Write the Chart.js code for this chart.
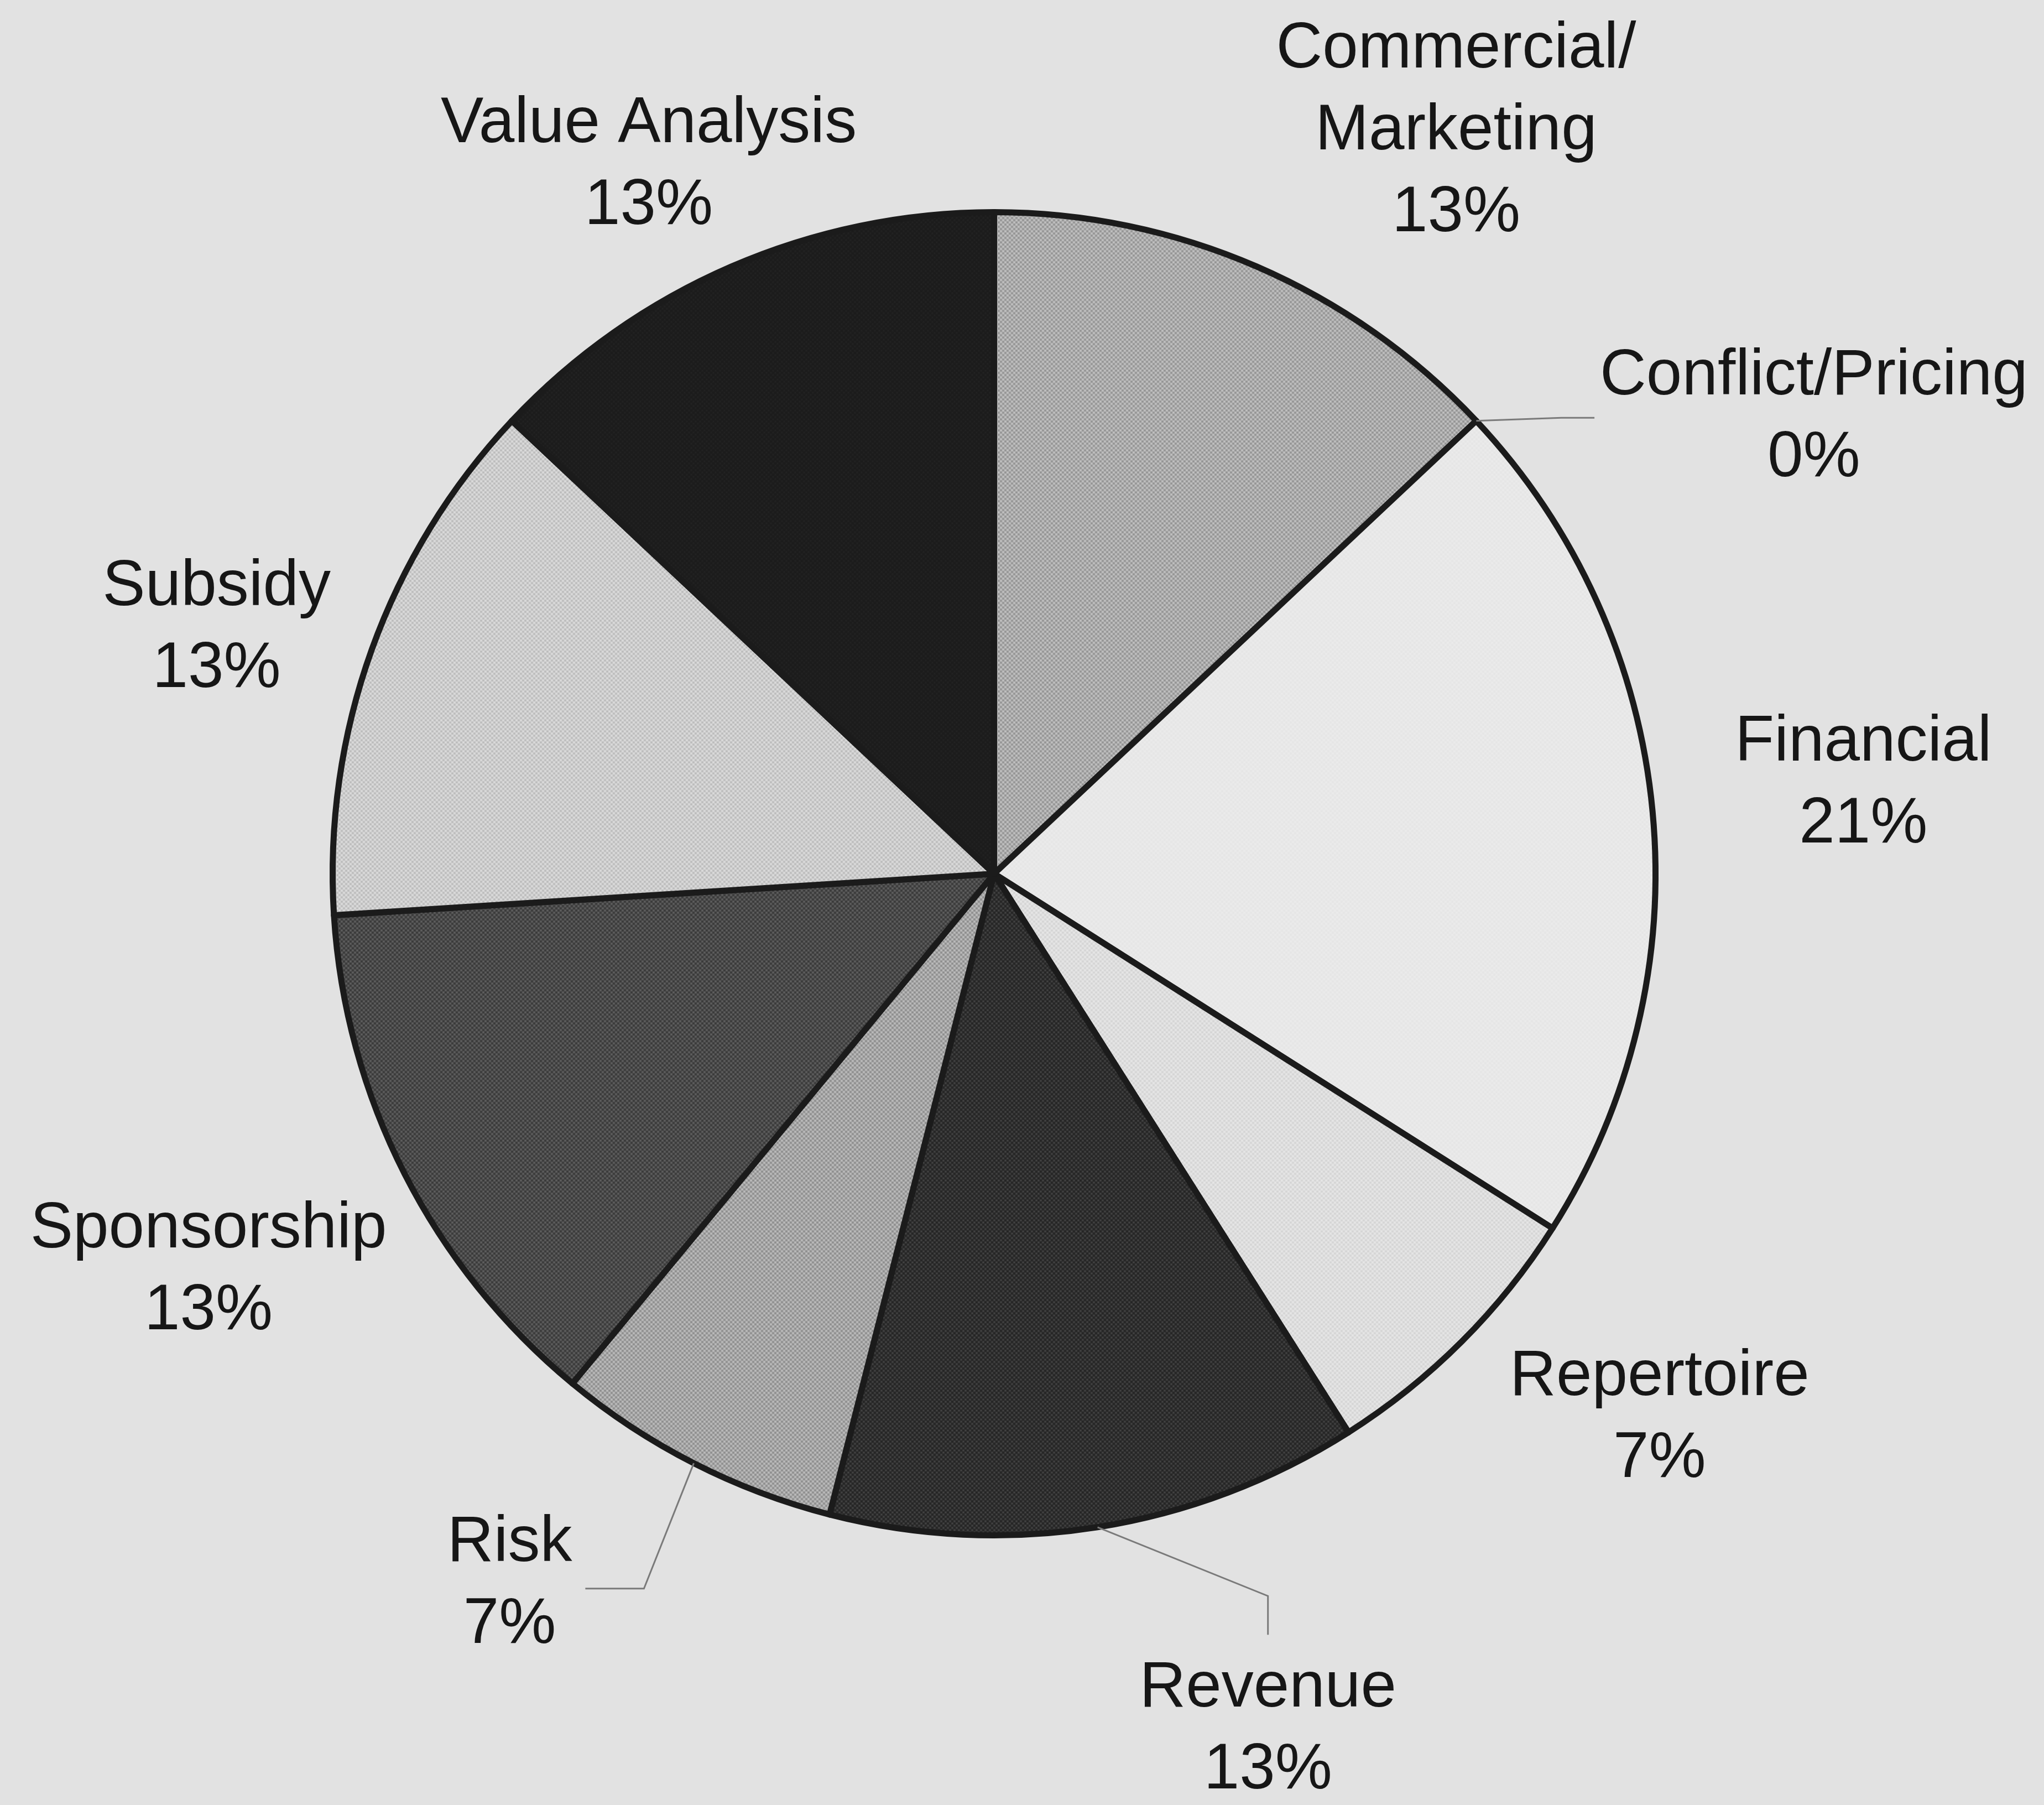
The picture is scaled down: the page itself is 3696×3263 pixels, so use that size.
<!DOCTYPE html>
<html>
<head>
<meta charset="utf-8">
<title>Pie</title>
<script src="https://cdn.jsdelivr.net/npm/chart.js@4.4.1/dist/chart.umd.min.js"></script>
<style>
  html, body { margin: 0; padding: 0; background: #e2e2e2; }
  canvas { display: block; }
</style>
</head>
<body>
<canvas id="pie" width="3696" height="3263"></canvas>
<script>
// ---- DATA ----
const categories = [
  ["Commercial/", "Marketing"],
  ["Conflict/Pricing"],
  ["Financial"],
  ["Repertoire"],
  ["Revenue"],
  ["Risk"],
  ["Sponsorship"],
  ["Subsidy"],
  ["Value Analysis"]
];
const shares = [13, 0, 21, 7, 13, 7, 13, 13, 13];

// ---- LOOK ----
// each slice: [base grey, light dot, dark dot] for the halftone fill
const sliceShades = [
  ["#ababab", "#c4c4c4", "#909090"],
  ["#e9e9e9", "#e9e9e9", "#e9e9e9"],
  ["#e8e8e8", "#ebebeb", "#e5e5e5"],
  ["#dedede", "#e7e7e7", "#d3d3d3"],
  ["#2f2f2f", "#444444", "#232323"],
  ["#a5a5a5", "#bfbfbf", "#8a8a8a"],
  ["#4a4a4a", "#616161", "#373737"],
  ["#cdcdcd", "#dddddd", "#b9b9b9"],
  ["#1e1e1e", "#222222", "#1b1b1b"]
];
// labels sit 1.3 radii out on the slice's middle angle, then get nudged (px)
const labelNudge = [
  [218, 85], [349, 240], [24, -16], [104, -115], [252, 12],
  [-170, -101], [-35, 12], [57, 83], [-7, 146]
];
// leader lines: side of the label block the line attaches to
const leaderSide = [null, "left", null, null, "top", "right", null, null, null];

const FONT_PX = 116;
const LINE_PX = 148;

function stipple([base, light, dark]) {
  const tile = document.createElement("canvas");
  tile.width = tile.height = 8;
  const t = tile.getContext("2d");
  t.fillStyle = base;
  t.fillRect(0, 0, 8, 8);
  const dot = (x, y, c) => { t.fillStyle = c; t.beginPath(); t.arc(x, y, 1.6, 0, Math.PI * 2); t.fill(); };
  dot(2, 2, light); dot(6, 6, light);
  dot(6, 2, dark); dot(2, 6, dark);
  return t.createPattern(tile, "repeat");
}

const pageFill = {
  id: "pageFill",
  beforeDraw(chart) {
    const ctx = chart.ctx;
    ctx.save();
    ctx.fillStyle = "#e2e2e2";
    ctx.fillRect(0, 0, chart.width, chart.height);
    ctx.restore();
  }
};

const sliceLabels = {
  id: "sliceLabels",
  afterDatasetsDraw(chart) {
    const ctx = chart.ctx;
    const arcs = chart.getDatasetMeta(0).data;
    ctx.save();
    ctx.font = `${FONT_PX}px "Liberation Sans", Arial, sans-serif`;
    ctx.textAlign = "center";
    ctx.textBaseline = "middle";
    arcs.forEach((arc, i) => {
      const { x, y, startAngle, endAngle, outerRadius } =
        arc.getProps(["x", "y", "startAngle", "endAngle", "outerRadius"], true);
      const mid = (startAngle + endAngle) / 2;
      const lines = [...categories[i], shares[i] + "%"];
      const cx = x + Math.cos(mid) * outerRadius * 1.3 + labelNudge[i][0];
      const cy = y + Math.sin(mid) * outerRadius * 1.3 + labelNudge[i][1];
      const top = cy - (lines.length - 1) * LINE_PX / 2;

      ctx.fillStyle = "#161616";
      lines.forEach((t, k) => ctx.fillText(t, cx, top + k * LINE_PX));

      const side = leaderSide[i];
      if (!side) return;
      const halfW = Math.max(...lines.map(t => ctx.measureText(t).width)) / 2;
      let end, elbow;
      if (side === "left") {
        end = [cx - halfW - 10, cy];
        elbow = [end[0] - 60, cy];
      } else if (side === "right") {
        end = [cx + halfW + 24, cy + 8];
        elbow = [end[0] + 106, cy + 8];
      } else {
        end = [cx, top - FONT_PX * 0.5 - 40];
        elbow = [cx, end[1] - 70];
      }
      ctx.strokeStyle = "#7a7a7a";
      ctx.lineWidth = 3;
      ctx.beginPath();
      ctx.moveTo(x + Math.cos(mid) * outerRadius, y + Math.sin(mid) * outerRadius);
      ctx.lineTo(elbow[0], elbow[1]);
      ctx.lineTo(end[0], end[1]);
      ctx.stroke();
    });
    ctx.restore();
  }
};

new Chart(document.getElementById("pie"), {
  type: "pie",
  data: {
    labels: categories,
    datasets: [{
      data: shares,
      backgroundColor: sliceShades.map(stipple),
      borderColor: "#1b1b1b",
      borderWidth: 11,
      borderJoinStyle: "round"
    }]
  },
  options: {
    responsive: false,
    animation: false,
    layout: { padding: { left: 596, right: 697, top: 378, bottom: 482 } },
    plugins: {
      legend: { display: false },
      tooltip: { enabled: false }
    }
  },
  plugins: [pageFill, sliceLabels]
});
</script>
</body>
</html>
